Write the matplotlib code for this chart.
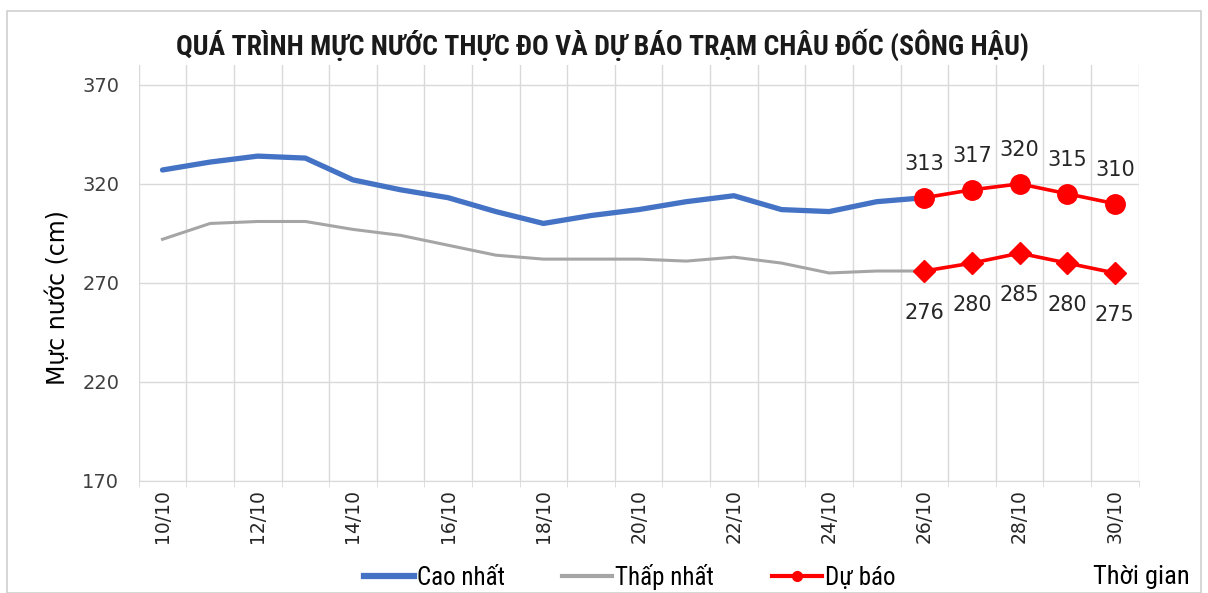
import matplotlib.pyplot as plt
from matplotlib import font_manager
from matplotlib.lines import Line2D
from matplotlib.patches import Rectangle

# ---- data ----
days = [f"{d}/10" for d in range(10, 31)]
cao_nhat = [327, 331, 334, 333, 322, 317, 313, 306, 300, 304, 307, 311, 314, 307, 306, 311, 313]
thap_nhat = [292, 300, 301, 301, 297, 294, 289, 284, 282, 282, 282, 281, 283, 280, 275, 276, 276]
du_bao_cao = [313, 317, 320, 315, 310]
du_bao_thap = [276, 280, 285, 280, 275]
y_ticks = [170, 220, 270, 320, 370]


def pick_font(names):
    for n in names:
        try:
            font_manager.findfont(n, fallback_to_default=False)
            return n
        except Exception:
            pass
    return 'DejaVu Sans'


narrow = pick_font(['Roboto Condensed', 'Liberation Sans Narrow', 'Liberation Sans'])
plain = 'DejaVu Sans'
plt.rcParams['font.family'] = [narrow, 'DejaVu Sans']

fig = plt.figure(figsize=(12.08, 5.93), dpi=100)
fig.patches.append(Rectangle((0.006, 0.0), 0.988, 0.982, transform=fig.transFigure,
                             fill=False, edgecolor='#d0d0d0', linewidth=1.2))
ax = fig.add_axes([0.1148, 0.1889, 0.8278, 0.7015])

x_obs = list(range(len(cao_nhat)))
x_fc = list(range(len(cao_nhat) - 1, len(cao_nhat) - 1 + len(du_bao_cao)))

ax.plot(x_obs, cao_nhat, color='#4472C4', linewidth=3.8, solid_capstyle='round', zorder=3)
ax.plot(x_obs, thap_nhat, color='#A5A5A5', linewidth=2.2, zorder=3)
ax.plot(x_fc, du_bao_cao, color='#FF0000', linewidth=2.6, marker='o', markersize=14, zorder=4)
ax.plot(x_fc, du_bao_thap, color='#FF0000', linewidth=2.6, marker='D', markersize=11, zorder=4)

for x, v in zip(x_fc, du_bao_cao):
    ax.annotate(str(v), (x, v), xytext=(0, 17), textcoords='offset points',
                ha='center', va='bottom', fontsize=15, family=plain, color='#262626')
for x, v in zip(x_fc, du_bao_thap):
    ax.annotate(str(v), (x, v), xytext=(0, -23), textcoords='offset points',
                ha='center', va='top', fontsize=15, family=plain, color='#262626')

ax.set_xlim(-0.5, len(days) - 0.5)
ax.set_ylim(170, 380)
ax.set_yticks(y_ticks)
ax.set_xticks(range(0, len(days), 2))
ax.set_xticklabels(days[::2], rotation=90, fontsize=13.5, family=plain, color='#262626')
ax.set_xticks([i - 0.5 for i in range(len(days) + 1)], minor=True)
ax.tick_params(axis='x', which='major', length=0, pad=6)
ax.tick_params(axis='x', which='minor', length=4, color='#d9d9d9')
ax.tick_params(axis='y', length=0, labelsize=14, labelcolor='#404040', pad=14)
for lbl in ax.get_yticklabels():
    lbl.set_family(plain)

ax.grid(True, axis='y', color='#d9d9d9', linewidth=1)
ax.grid(True, axis='x', which='minor', color='#d9d9d9', linewidth=1)
ax.set_axisbelow(True)
for side in ['top', 'right', 'left']:
    ax.spines[side].set_visible(False)
ax.spines['bottom'].set_color('#d9d9d9')

ax.set_ylabel('Mực nước (cm)', fontsize=17, family=plain, color='#000000')
ax.yaxis.set_label_coords(-0.069, 0.44)
fig.text(0.499, 0.925, 'QUÁ TRÌNH MỰC NƯỚC THỰC ĐO VÀ DỰ BÁO TRẠM CHÂU ĐỐC (SÔNG HẬU)',
         ha='center', va='center', fontsize=20, fontweight='bold', color='#1a1a1a')

handles = [Line2D([], [], color='#4472C4', linewidth=4.5),
           Line2D([], [], color='#A5A5A5', linewidth=3),
           Line2D([], [], color='#FF0000', linewidth=3, marker='o', markersize=7)]
fig.legend(handles, ['Cao nhất', 'Thấp nhất', 'Dự báo'], loc='center', ncol=3,
           bbox_to_anchor=(0.521, 0.027), frameon=False, fontsize=18,
           handlelength=2.0, handletextpad=0.12, columnspacing=2.3)
fig.text(0.985, 0.027, 'Thời gian', ha='right', va='center', fontsize=19)

fig.savefig('out.png', dpi=100)
